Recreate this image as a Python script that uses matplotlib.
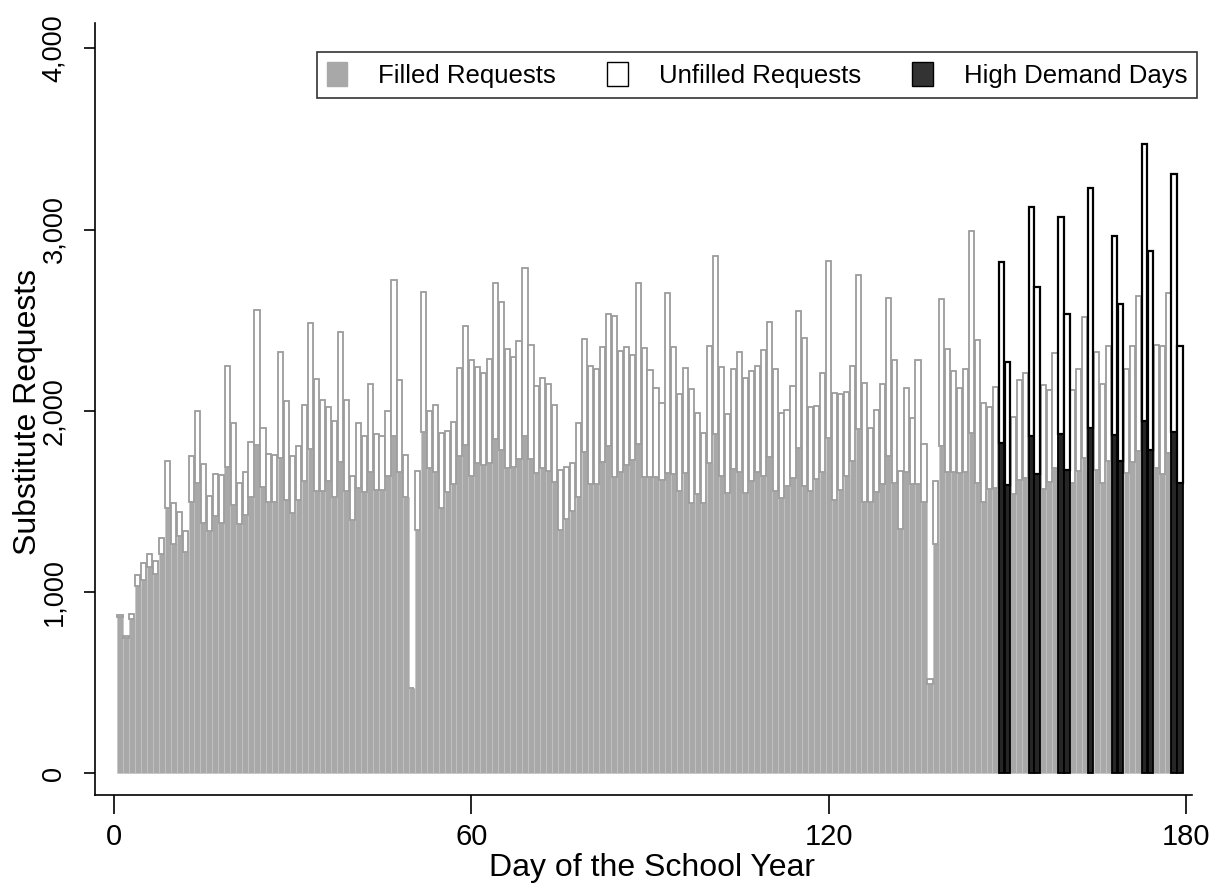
import numpy as np
import matplotlib
matplotlib.use('Agg')
from matplotlib import pyplot as plt
from matplotlib.patches import Patch

# requests per school day
total = [872, 756, 877, 1092, 1159, 1208, 1170, 1297, 1721, 1490,
         1440, 1335, 1749, 1997, 1705, 1528, 1650, 1644, 2245, 1932,
         1602, 1661, 1828, 2554, 1903, 1760, 1754, 2325, 2052, 1749,
         1806, 2030, 2483, 2174, 2058, 2022, 1945, 2433, 2058, 1640,
         1934, 1860, 2149, 1873, 1860, 1996, 2723, 2167, 1753, 470,
         1668, 2656, 1996, 2031, 1875, 1888, 1940, 2238, 2466, 2279,
         2242, 2210, 2285, 2703, 2602, 2339, 2298, 2387, 2787, 2363,
         2136, 2182, 2149, 2033, 1673, 1692, 1714, 1934, 2395, 2246,
         2233, 2354, 2535, 2522, 2330, 2354, 2307, 2703, 2345, 2223,
         2124, 2042, 2649, 2354, 2093, 2236, 2121, 1986, 1875, 2359,
         2852, 2242, 1981, 2229, 2326, 2180, 2218, 2248, 2335, 2488,
         2229, 1985, 2005, 2136, 2553, 2404, 2018, 2027, 2210, 2824,
         2096, 2093, 2106, 2248, 2751, 2154, 1906, 2005, 2149, 2624,
         2279, 1669, 2124, 1962, 2279, 1817, 517, 1613, 2615, 2342,
         2221, 2125, 2232, 2992, 2392, 2045, 2020, 2130, 2823, 2271,
         1963, 2168, 2210, 3124, 2683, 2141, 2113, 2317, 3068, 2534,
         2113, 2228, 2518, 3228, 2324, 2148, 2358, 2964, 2591, 2228,
         2358, 2633, 3472, 2880, 2365, 2358, 2649, 3308, 2358]

filled = [861, 745, 850, 1032, 1065, 1136, 1098, 1208, 1462, 1263,
          1308, 1219, 1495, 1600, 1379, 1335, 1418, 1379, 1688, 1478,
          1374, 1423, 1525, 1810, 1578, 1497, 1497, 1738, 1506, 1434,
          1506, 1611, 1788, 1556, 1558, 1611, 1523, 1718, 1556, 1396,
          1571, 1552, 1664, 1565, 1565, 1641, 1860, 1664, 1524, 470,
          1341, 1884, 1682, 1660, 1464, 1552, 1598, 1748, 1813, 1640,
          1710, 1701, 1714, 1845, 1785, 1686, 1692, 1735, 1860, 1735,
          1654, 1686, 1669, 1608, 1341, 1403, 1446, 1524, 1770, 1598,
          1598, 1716, 1804, 1632, 1660, 1701, 1729, 1817, 1632, 1632,
          1632, 1617, 1654, 1649, 1556, 1654, 1490, 1543, 1490, 1710,
          1869, 1640, 1546, 1677, 1664, 1546, 1612, 1660, 1640, 1744,
          1557, 1520, 1585, 1626, 1794, 1585, 1557, 1621, 1664, 1850,
          1505, 1565, 1640, 1725, 1897, 1496, 1496, 1552, 1598, 1751,
          1602, 1347, 1664, 1598, 1598, 1496, 494, 1263, 1804, 1661,
          1661, 1654, 1661, 1877, 1599, 1494, 1569, 1576, 1821, 1592,
          1539, 1615, 1626, 1859, 1650, 1569, 1608, 1683, 1871, 1672,
          1603, 1667, 1741, 1905, 1672, 1599, 1725, 1866, 1722, 1654,
          1718, 1775, 1946, 1782, 1683, 1649, 1768, 1883, 1603]

high_demand = [149, 150, 154, 155, 159, 160, 164, 168, 169, 173, 174, 178, 179]

x_ticks = [0, 60, 120, 180]
y_ticks = [0, 1000, 2000, 3000, 4000]

plt.rcParams['font.family'] = ['Liberation Sans', 'DejaVu Sans']

days = np.arange(1, len(total) + 1)
filled = np.array(filled)
unfilled = np.array(total) - filled
hd = np.isin(days, high_demand)

fig = plt.figure(figsize=(12.25, 8.84), dpi=100)
ax = fig.add_axes([95/1225, 1 - 795/884, 1097/1225, 772/884])

ax.bar(days[~hd], filled[~hd], width=1.0, color='#a8a8a8', edgecolor='#c4c4c4', linewidth=0.5)
ax.bar(days[~hd], unfilled[~hd], bottom=filled[~hd], width=0.86, color='white',
       edgecolor='#9c9c9c', linewidth=1.3)
ax.bar(days[hd], filled[hd], width=0.9, color='#262626', edgecolor='black', linewidth=1.3)
ax.bar(days[hd], unfilled[hd], bottom=filled[hd], width=0.9, color='white',
       edgecolor='black', linewidth=1.6)

ax.set_xlim(-3.2, 181)
ax.set_ylim(-121, 4140)
ax.spines['top'].set_visible(False)
ax.spines['right'].set_visible(False)
ax.spines['left'].set_linewidth(1.2)
ax.spines['bottom'].set_linewidth(1.2)

ax.set_xticks(x_ticks)
ax.set_yticks(y_ticks)
ax.set_yticklabels([f'{v:,}' for v in y_ticks], rotation=90, va='center')
ax.tick_params(axis='y', length=8, width=1.2, pad=12, labelsize=19.5)
ax.tick_params(axis='x', length=14, width=1.2, pad=6, labelsize=21)

ax.set_xlabel('Day of the School Year', fontsize=23)
ax.xaxis.set_label_coords(557/1097, -0.075)
ax.set_ylabel('Substitute Requests', fontsize=23)
ax.yaxis.set_label_coords(-52/1097, 0.496)

handles = [Patch(facecolor='#a8a8a8', edgecolor='#a8a8a8'),
           Patch(facecolor='white', edgecolor='black'),
           Patch(facecolor='#333333', edgecolor='black')]
labels = ['Filled Requests', 'Unfilled Requests', 'High Demand Days']
leg = fig.legend(handles, labels, loc='upper right', bbox_to_anchor=(1197/1225, 1 - 52/884),
                 borderaxespad=0, ncol=3, fontsize=18.5, frameon=True, fancybox=False,
                 handlelength=0.8, handleheight=1.1, handletextpad=1.2,
                 columnspacing=2.0, borderpad=0.38)
leg.get_frame().set_edgecolor('black')
leg.get_frame().set_linewidth(1.2)

fig.savefig('out.png', dpi=100)
